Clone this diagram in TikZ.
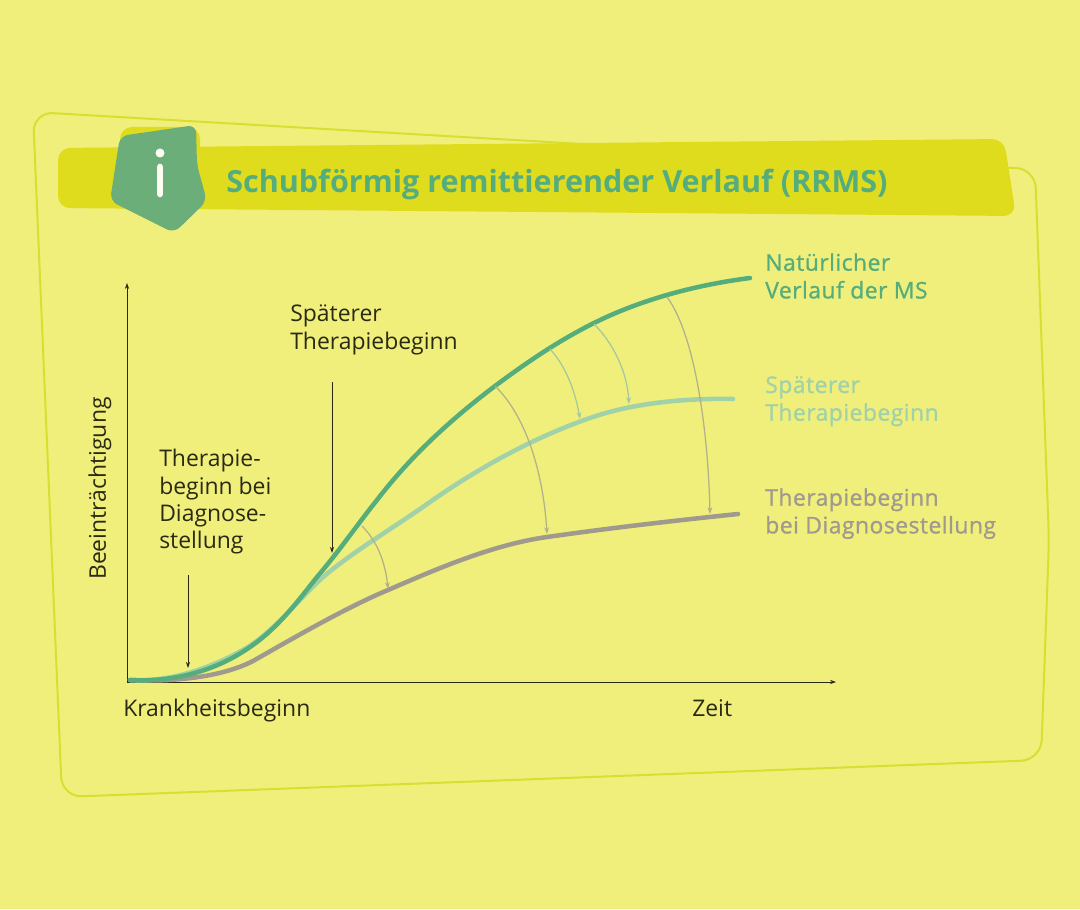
\documentclass[tikz,border=0pt]{standalone}
\usepackage{fontspec}
\setmainfont{Open Sans}
\newfontfamily\semibf[FakeBold=1,LetterSpace=2]{Open Sans}
\usetikzlibrary{arrows.meta}
\definecolor{bgc}{HTML}{F0EF7C}
\definecolor{barc}{HTML}{DFDC1E}
\definecolor{framec}{HTML}{D9DE30}
\definecolor{badgec}{HTML}{6BAE7A}
\definecolor{greenc}{HTML}{56AD7C}
\definecolor{lightc}{HTML}{A0D1A8}
\definecolor{grayc}{HTML}{A09A8E}
\definecolor{arrowc}{HTML}{B2B28A}
\definecolor{inkc}{HTML}{2A2A12}
\tikzset{
  x=0.75pt,y=-0.75pt,
  txt/.style={inner sep=0,anchor=north west,align=left,text=inkc,font=\fontsize{17.2}{20.8}\selectfont},
  lab/.style={txt,font=\fontsize{17.2}{20.8}\selectfont\semibf},
  curve/.style={line width=3.4pt,line cap=round},
  axis/.style={draw=inkc,line width=0.75pt,-{Stealth[length=4.5pt,width=3.2pt]}},
  pointer/.style={draw=inkc,line width=0.7pt,-{Stealth[length=4.5pt,width=3pt]}},
  remit/.style={line width=0.95pt,-{Stealth[length=5pt,width=3.6pt]}},
}
\begin{document}
\begin{tikzpicture}
\fill[bgc] (0,0) rectangle (1080,909);
\useasboundingbox (0,0) rectangle (1080,909);
% frame
\draw[framec,line width=1.5pt,rounded corners=15pt]
  (600,145) -- (33,112) -- (62,797) -- (1041,760) -- (1049,540) -- (1035,168) -- (1005,168);
% title bar
\fill[barc,rounded corners=9pt] (58,148) -- (1004,139) -- (1016,216) -- (58,208) -- cycle;
\fill[barc,rounded corners=9pt] (120,127) -- (200,127) -- (200,160) -- (120,160) -- cycle;
% badge
\fill[badgec,rounded corners=6pt] (120,136) -- (196,125) -- (197,165) -- (207,201) -- (174,233) -- (110,201) -- cycle;
\fill[white!90!bgc] (160,153) circle (4.5);
\draw[white!90!bgc,line width=5pt,line cap=round] (160,167) -- (160,194);
\node[inner sep=0,anchor=west,text=greenc,font=\fontsize{22.9}{26}\selectfont\bfseries] (title) at (226,184) {Schubförmig remittierender Verlauf (RRMS)};
% axes
\coordinate (o) at (127,682);
\coordinate (yend) at (127,283);
\coordinate (xend) at (836,682);
\draw[axis] (o) -- (yend);
\draw[axis] (o) -- (xend);
% curves
\draw[curve,grayc] (130,680) .. controls (170,682) and (220,678) .. (253,661)
  .. controls (290,640) and (345,608) .. (388,590)
  .. controls (430,572) and (490,545) .. (547,537)
  .. controls (610,528) and (680,520) .. (738,514);
\draw[curve,lightc] (130,680) .. controls (165,682) and (205,672) .. (248,647)
  .. controls (275,630) and (300,598) .. (322,578)
  .. controls (352,552) and (395,527) .. (430,502)
  .. controls (480,467) and (535,437) .. (590,418)
  .. controls (630,404) and (680,398) .. (733,399);
\draw[curve,greenc] (130,680) .. controls (165,682) and (210,675) .. (250,647)
  .. controls (278,628) and (298,601) .. (317,577)
  .. controls (340,550) and (357,525) .. (377,500)
  .. controls (410,457) and (450,420) .. (495,386)
  .. controls (530,360) and (560,340) .. (594,323)
  .. controls (640,300) and (695,285) .. (750,278);
% remission arrows
\coordinate (a1) at (362,526); \coordinate (a2) at (388,589);
\coordinate (b1) at (495,386); \coordinate (b2) at (547,534);
\coordinate (c1) at (667,297); \coordinate (c2) at (710,514);
\coordinate (d1) at (550,349); \coordinate (d2) at (580,419);
\coordinate (e1) at (594,324); \coordinate (e2) at (629,404);
\draw[remit,arrowc] (a1) .. controls (376,540) and (385,560) .. (a2);
\draw[remit,arrowc] (b1) .. controls (525,415) and (543,470) .. (b2);
\draw[remit,arrowc] (c1) .. controls (695,335) and (708,430) .. (c2);
\draw[remit,lightc!70!arrowc] (d1) .. controls (565,365) and (575,390) .. (d2);
\draw[remit,lightc!70!arrowc] (e1) .. controls (612,342) and (627,370) .. (e2);
% pointers
\coordinate (p1) at (188,575); \coordinate (p2) at (188,668);
\coordinate (q1) at (332,382); \coordinate (q2) at (332,553);
\draw[pointer] (p1) -- (p2);
\draw[pointer] (q1) -- (q2);
% texts
\node[txt] (t1) at (159,449) {Therapie-\\[-0.3pt]beginn bei\\[-0.3pt]Diagnose-\\[-0.3pt]stellung};
\node[txt] (t2) at (290,305) {Späterer\\Therapiebeginn};
\node[txt,anchor=base west] (t3) at (123,716) {Krankheitsbeginn};
\node[txt,anchor=base west] (t4) at (692,716) {Zeit};
\node[txt,anchor=west,rotate=90] (t5) at (100,580) {Beeinträchtigung};
\node[lab,text=greenc] (l1) at (765,253) {Natürlicher\\Verlauf der MS};
\node[lab,text=lightc] (l2) at (765,376) {Späterer\\Therapiebeginn};
\node[lab,text=grayc] (l3) at (765,488) {Therapiebeginn\\bei Diagnosestellung};
\end{tikzpicture}
\end{document}
